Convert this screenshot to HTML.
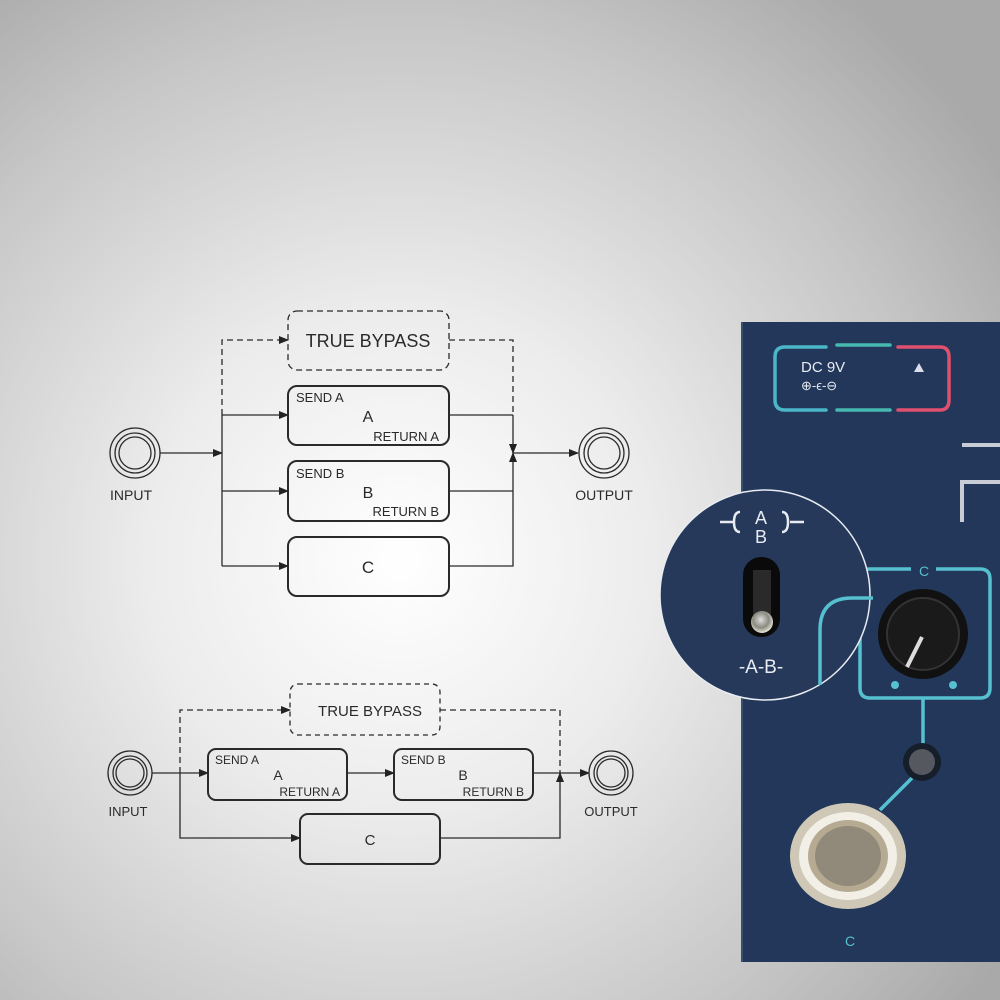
<!DOCTYPE html>
<html><head><meta charset="utf-8"><style>
html,body{margin:0;padding:0;}
body{width:1000px;height:1000px;overflow:hidden;}
svg{display:block}
text{font-family:"Liberation Sans",sans-serif;fill:#2a2a2a}
</style></head><body>
<svg width="1000" height="1000" viewBox="0 0 1000 1000" xmlns="http://www.w3.org/2000/svg">
<defs>
<radialGradient id="bg" cx="400" cy="560" r="720" gradientUnits="userSpaceOnUse">
<stop offset="0" stop-color="#ffffff"/><stop offset="0.35" stop-color="#ececec"/><stop offset="0.75" stop-color="#c6c6c6"/><stop offset="1" stop-color="#a9a9a9"/>
</radialGradient>
<marker id="ar" markerWidth="10" markerHeight="10" refX="9" refY="5" orient="auto" markerUnits="userSpaceOnUse"><path d="M0,1 L10,5 L0,9 Z" fill="#222"/></marker>
<radialGradient id="met" cx="0.45" cy="0.4" r="0.6"><stop offset="0" stop-color="#ddd"/><stop offset="0.6" stop-color="#8a8a80"/><stop offset="1" stop-color="#e8e4d8"/></radialGradient>
</defs>
<rect width="1000" height="1000" fill="url(#bg)"/>

<g stroke="#2a2a2a" fill="none" stroke-width="1.3">
<circle cx="135" cy="453" r="25"/><circle cx="135" cy="453" r="20"/><circle cx="135" cy="453" r="16"/>
<circle cx="604" cy="453" r="25"/><circle cx="604" cy="453" r="20"/><circle cx="604" cy="453" r="16"/>
<line x1="160" y1="453" x2="222" y2="453" marker-end="url(#ar)"/>
<path d="M222 415 V340 H288" stroke-dasharray="6,4" marker-end="url(#ar)"/>
<line x1="222" y1="415" x2="222" y2="566"/>
<line x1="222" y1="415" x2="288" y2="415" marker-end="url(#ar)"/>
<line x1="222" y1="491" x2="288" y2="491" marker-end="url(#ar)"/>
<line x1="222" y1="566" x2="288" y2="566" marker-end="url(#ar)"/>
<rect x="288" y="311" width="161" height="59" rx="9" stroke-dasharray="6,4"/>
<rect x="288" y="386" width="161" height="59" rx="9" stroke-width="2"/>
<rect x="288" y="461" width="161" height="60" rx="9" stroke-width="2"/>
<rect x="288" y="537" width="161" height="59" rx="9" stroke-width="2"/>
<path d="M449 340 H513 V415" stroke-dasharray="6,4"/>
<line x1="449" y1="415" x2="513" y2="415"/>
<line x1="513" y1="415" x2="513" y2="453" marker-end="url(#ar)"/>
<line x1="449" y1="491" x2="513" y2="491"/>
<path d="M449 566 H513 V453" marker-end="url(#ar)"/>
<line x1="513" y1="453" x2="578" y2="453" marker-end="url(#ar)"/>

<circle cx="130" cy="773" r="22"/><circle cx="130" cy="773" r="17"/><circle cx="130" cy="773" r="14"/>
<circle cx="611" cy="773" r="22"/><circle cx="611" cy="773" r="17"/><circle cx="611" cy="773" r="14"/>
<line x1="152" y1="773" x2="208" y2="773" marker-end="url(#ar)"/>
<path d="M180 773 V710 H290" stroke-dasharray="6,4" marker-end="url(#ar)"/>
<path d="M180 773 V838 H300" marker-end="url(#ar)"/>
<rect x="290" y="684" width="150" height="51" rx="8" stroke-dasharray="5,4"/>
<rect x="208" y="749" width="139" height="51" rx="8" stroke-width="2"/>
<rect x="394" y="749" width="139" height="51" rx="8" stroke-width="2"/>
<rect x="300" y="814" width="140" height="50" rx="8" stroke-width="2"/>
<line x1="347" y1="773" x2="394" y2="773" marker-end="url(#ar)"/>
<path d="M440 710 H560 V773" stroke-dasharray="6,4"/>
<line x1="533" y1="773" x2="589" y2="773" marker-end="url(#ar)"/>
<path d="M440 838 H560 V773" marker-end="url(#ar)"/>
</g>

<g>
<text x="368" y="347" font-size="18" text-anchor="middle">TRUE BYPASS</text>
<text x="296" y="402" font-size="13">SEND A</text>
<text x="368" y="422" font-size="16" text-anchor="middle">A</text>
<text x="439" y="441" font-size="13" text-anchor="end">RETURN A</text>
<text x="296" y="478" font-size="13">SEND B</text>
<text x="368" y="498" font-size="16" text-anchor="middle">B</text>
<text x="439" y="516" font-size="13" text-anchor="end">RETURN B</text>
<text x="368" y="573" font-size="17" text-anchor="middle">C</text>
<text x="131" y="500" font-size="14" text-anchor="middle">INPUT</text>
<text x="604" y="500" font-size="14" text-anchor="middle">OUTPUT</text>

<text x="370" y="716" font-size="15" text-anchor="middle">TRUE BYPASS</text>
<text x="215" y="764" font-size="12">SEND A</text>
<text x="278" y="780" font-size="14" text-anchor="middle">A</text>
<text x="340" y="796" font-size="12" text-anchor="end">RETURN A</text>
<text x="401" y="764" font-size="12">SEND B</text>
<text x="463" y="780" font-size="14" text-anchor="middle">B</text>
<text x="524" y="796" font-size="12" text-anchor="end">RETURN B</text>
<text x="370" y="845" font-size="15" text-anchor="middle">C</text>
<text x="128" y="816" font-size="13" text-anchor="middle">INPUT</text>
<text x="611" y="816" font-size="13" text-anchor="middle">OUTPUT</text>
</g>

<rect x="742" y="322" width="270" height="640" fill="#223759"/>
<line x1="742" y1="322" x2="742" y2="962" stroke="#3a4e6e" stroke-width="2"/>
<g fill="none" stroke-width="3.5" stroke-linecap="round">
<path d="M826 347 H785 Q775 347 775 357 V400 Q775 410 785 410 H826" stroke="#4ab6c8"/>
<path d="M837 345 H890 M837 410 H890" stroke="#45b8b0"/>
<path d="M898 347 H940 Q949 347 949 357 V400 Q949 410 940 410 H898" stroke="#e0506e"/>
</g>
<text x="801" y="372" font-size="15" style="fill:#e8ecf2">DC 9V</text>
<text x="801" y="390" font-size="13" style="fill:#e8ecf2">⊕-ϵ-⊖</text>
<path d="M914 372 L919 363 L924 372 Z" fill="#dde"/>
<path d="M962 522 V482 H1000 M962 445 H1000" stroke="#c8ccd4" stroke-width="4" fill="none"/>
<g fill="none" stroke="#56c0d0" stroke-width="3.5">
<path d="M911 569 H870 Q860 569 860 579 V688 Q860 698 870 698 H980 Q990 698 990 688 V579 Q990 569 980 569 H936"/>
<path d="M923 698 V748"/>
<path d="M880 810 L912 778"/>
</g>
<text x="924" y="576" font-size="14" text-anchor="middle" style="fill:#56c0d0">C</text>
<circle cx="895" cy="685" r="4" fill="#56c0d0"/>
<circle cx="953" cy="685" r="4" fill="#56c0d0"/>
<circle cx="923" cy="634" r="45" fill="#111"/>
<circle cx="923" cy="634" r="36" fill="#1a1a1a" stroke="#333" stroke-width="2"/>
<line x1="907" y1="667" x2="922" y2="637" stroke="#ddd" stroke-width="4"/>
<circle cx="922" cy="762" r="19" fill="#161e2a"/>
<circle cx="922" cy="762" r="13" fill="#55595f"/>
<ellipse cx="848" cy="856" rx="58" ry="53" fill="#cfc8b6"/>
<ellipse cx="848" cy="856" rx="49" ry="44" fill="#f2efe6"/>
<ellipse cx="848" cy="856" rx="40" ry="36" fill="#b6aa92"/>
<ellipse cx="848" cy="856" rx="33" ry="30" fill="#918a7a"/>
<text x="850" y="946" font-size="14" text-anchor="middle" style="fill:#56c0d0">C</text>
<circle cx="765" cy="595" r="105" fill="#26395a" stroke="#e8ecf2" stroke-width="1.5"/>
<path d="M820 685 V630 Q820 598 852 598 H873" fill="none" stroke="#56c0d0" stroke-width="3.5"/>
<text x="761" y="524" font-size="18" text-anchor="middle" style="fill:#e8ecf2">A</text>
<text x="761" y="543" font-size="18" text-anchor="middle" style="fill:#e8ecf2">B</text>
<path d="M720 522 H733 M740 512 Q734 512 734 522 Q734 532 740 532 M782 512 Q788 512 788 522 Q788 532 782 532 M790 522 H804" stroke="#e8ecf2" stroke-width="2.5" fill="none"/>
<rect x="743" y="557" width="37" height="80" rx="18" fill="#0a0a0a"/>
<rect x="753" y="570" width="18" height="45" fill="#2a2a2a"/>
<circle cx="762" cy="622" r="11" fill="url(#met)"/>
<text x="761" y="673" font-size="19" text-anchor="middle" style="fill:#e8ecf2">-A-B-</text>
</svg>
</body></html>
